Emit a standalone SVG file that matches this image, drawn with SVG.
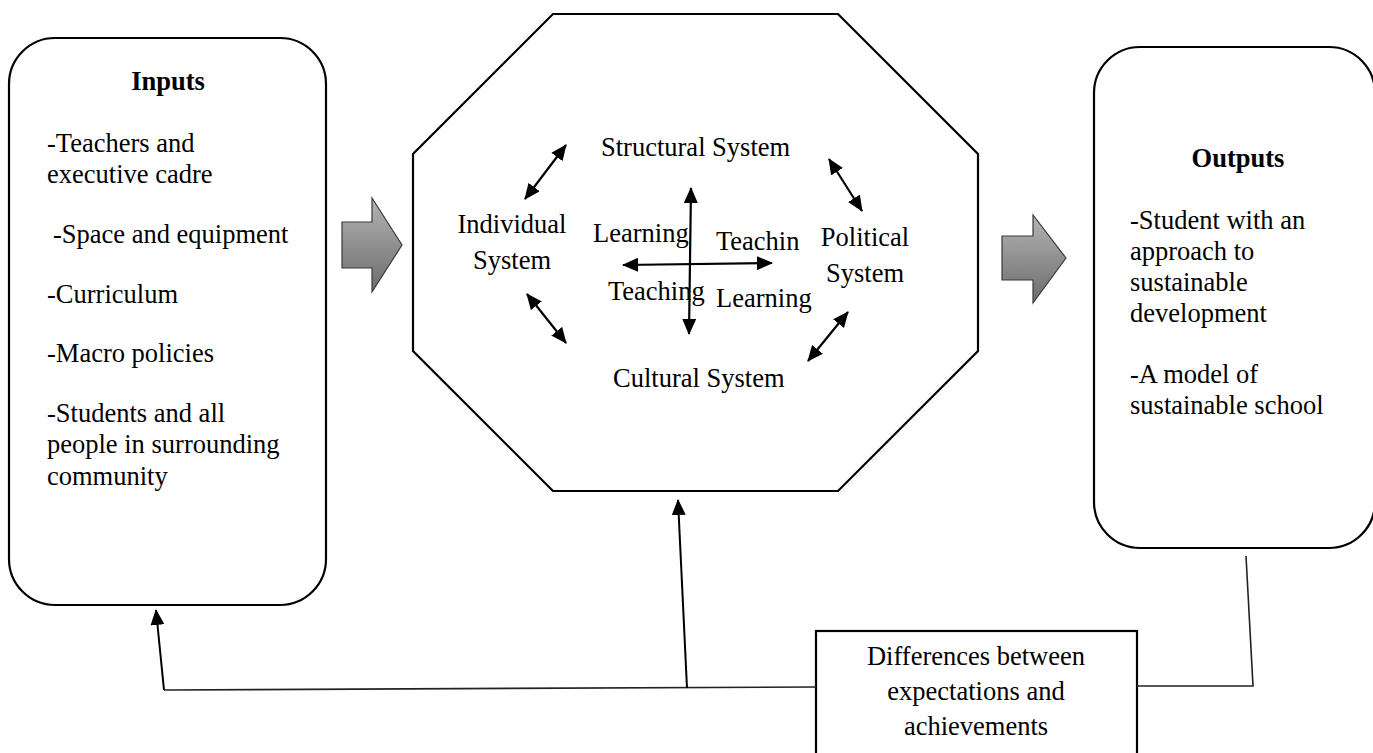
<svg xmlns="http://www.w3.org/2000/svg" width="1373" height="753" viewBox="0 0 1373 753">
<style>
  text { font-family: "Liberation Serif", "Times New Roman", serif; font-size: 26.5px; fill: #000; }
  .b { font-weight: bold; }
  .m { text-anchor: middle; }
  .box { fill: #fff; stroke: #000; stroke-width: 2.2; }
  .big { fill: url(#grey); stroke: #3a3a3a; stroke-width: 1.2; }
  .arr { fill: none; stroke: #000; stroke-width: 2.2; marker-start: url(#ah); marker-end: url(#ah); }
  .fb { fill: none; stroke: #222; stroke-width: 1.6; }
  .fba { fill: none; stroke: #000; stroke-width: 2; marker-end: url(#ah); }
</style>
<defs>
  <linearGradient id="grey" x1="0" y1="0" x2="0" y2="1">
    <stop offset="0" stop-color="#b4b4b4"/>
    <stop offset="1" stop-color="#6c6c6c"/>
  </linearGradient>
  <marker id="ah" markerUnits="userSpaceOnUse" markerWidth="16" markerHeight="14" refX="15" refY="7" orient="auto-start-reverse" viewBox="0 0 16 14">
    <path d="M0,0 L16,7 L0,14 z" fill="#000"/>
  </marker>
</defs>
<rect width="1373" height="753" fill="#fff"/>

<g id="inputs">
  <rect class="box" x="9" y="38" width="317" height="567" rx="46" ry="46"/>
  <text class="b m" x="168" y="90">Inputs</text>
  <text x="47" y="152">-Teachers and</text>
  <text x="47" y="183">executive cadre</text>
  <text x="53" y="243">-Space and equipment</text>
  <text x="47" y="303">-Curriculum</text>
  <text x="47" y="362">-Macro policies</text>
  <text x="47" y="422">-Students and all</text>
  <text x="47" y="453">people in surrounding</text>
  <text x="47" y="485">community</text>
</g>

<g id="arrow-in">
  <path class="big" d="M342,222 L372,222 L372,198 L402,245 L372,292 L372,268 L342,268 Z"/>
</g>

<g id="process">
  <polygon class="box" points="553,14 838,14 978,154 978,351 838,491 553,491 413,351 413,154"/>
  <text x="601" y="156">Structural System</text>
  <text class="m" x="512" y="233">Individual</text>
  <text class="m" x="512" y="269">System</text>
  <text class="m" x="865" y="246">Political</text>
  <text class="m" x="865" y="282">System</text>
  <text x="613" y="387">Cultural System</text>
  <text x="593" y="242">Learning</text>
  <text x="716" y="250">Teachin</text>
  <text x="608" y="300">Teaching</text>
  <text x="716" y="307">Learning</text>
</g>

<g id="arrow-out">
  <path class="big" d="M1002,236 L1033,236 L1033,215 L1066,258 L1033,303 L1033,280 L1002,280 Z"/>
</g>

<g id="outputs">
  <rect class="box" x="1094" y="47" width="281" height="501" rx="46" ry="46"/>
  <text class="b m" x="1238" y="167">Outputs</text>
  <text x="1130" y="229">-Student with an</text>
  <text x="1130" y="260">approach to</text>
  <text x="1130" y="291">sustainable</text>
  <text x="1130" y="322">development</text>
  <text x="1130" y="383">-A model of</text>
  <text x="1130" y="414">sustainable school</text>
</g>

<g id="differences">
  <rect class="box" x="816" y="631" width="321" height="135"/>
  <text class="m" x="976" y="665">Differences between</text>
  <text class="m" x="976" y="700">expectations and</text>
  <text class="m" x="976" y="735">achievements</text>
</g>

<g id="connectors">
  <line class="arr" x1="691" y1="188" x2="689" y2="334"/>
  <line class="arr" x1="623" y1="265" x2="772" y2="263"/>
  <line class="arr" x1="525" y1="199" x2="566" y2="145"/>
  <line class="arr" x1="829" y1="159" x2="862" y2="211"/>
  <line class="arr" x1="527" y1="294" x2="566" y2="343"/>
  <line class="arr" x1="848" y1="312" x2="808" y2="361"/>
  <polyline class="fb" points="816,687 164,690"/>
  <line class="fba" x1="164" y1="690" x2="156" y2="610"/>
  <line class="fba" x1="687" y1="688" x2="678" y2="500"/>
  <polyline class="fb" points="1137,686 1253,686 1246,556"/>
</g>
</svg>
